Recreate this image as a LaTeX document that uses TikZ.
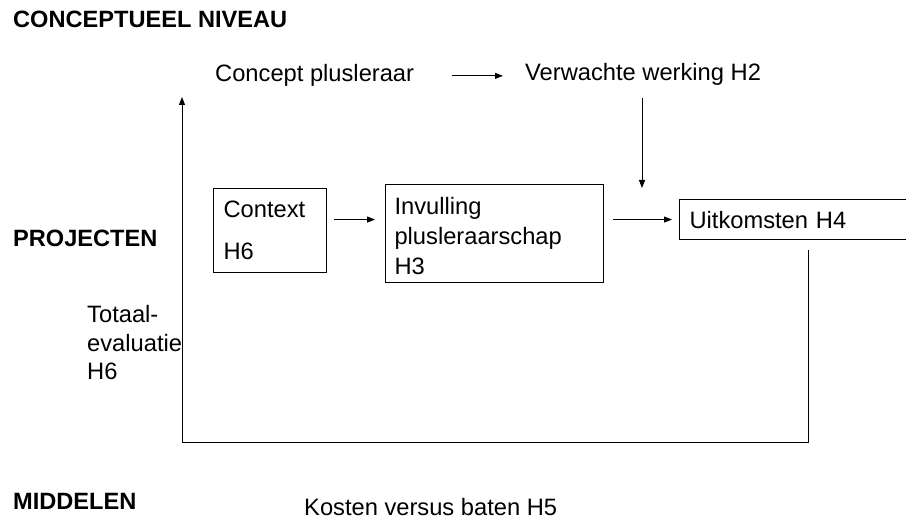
\documentclass[tikz,border=0pt]{standalone}
\usepackage{fontspec}
\setmainfont{Liberation Sans}
\usetikzlibrary{arrows.meta,positioning}
\tikzset{
  lbl/.style={inner sep=0pt,font=\fontsize{23.7pt}{30pt}\selectfont},
  head/.style={inner sep=0pt,font=\fontsize{23.6pt}{28pt}\selectfont\bfseries},
  box/.style={draw=black,line width=1.1pt,inner ysep=0pt,inner xsep=10pt,align=left,anchor=north west,font=\fontsize{23.7pt}{30pt}\selectfont},
  arr/.style={-{Triangle[length=8pt,width=6pt]},line width=1pt,black},
}
\begin{document}
\begin{tikzpicture}[x=1pt,y=-1pt]
  \useasboundingbox (0,0) rectangle (906,521);
  % levels
  \node[head,anchor=base west] (hconc) at (13,28) {CONCEPTUEEL NIVEAU};
  \node[head,anchor=base west] (hproj) at (13,247) {PROJECTEN};
  \node[head,anchor=base west] (hmidd) at (13,510) {MIDDELEN};
  % conceptual level
  \node[lbl,anchor=base west] (conc) at (215,82) {Concept plusleraar};
  \node[lbl,anchor=base west] (verw) at (525,81) {Verwachte werking H2};
  % projects
  \node[box,minimum width=113pt,minimum height=84pt,text width=93pt] (ctx) at (213,188) {Context\\[12pt]H6};
  \node[box,inner xsep=9pt,minimum width=218pt,minimum height=98pt,text width=200pt] (inv) at (385,184) {\rule{0pt}{22pt}Invulling\\plusleraarschap\\H3};
  \node[box,minimum width=234pt,minimum height=40pt,text width=214pt] (uitk) at (679,199) {Uitkomsten H4};
  \node[lbl,align=left,anchor=base west,font=\fontsize{23.7pt}{28.5pt}\selectfont] (tot) at (87,380) {Totaal-\\evaluatie\\H6};
  % means
  \node[lbl,anchor=base west] (kost) at (304,515) {Kosten versus baten H5};
  \coordinate (dn) at (642,188);
  \coordinate (loopR) at (808,443);
  \coordinate (loopL) at (182,443);
  \coordinate (fbtop) at (182,97);
  \draw[arr,shorten <=38pt,shorten >=22pt] (conc.east) -- (verw.west |- conc.east);
  \draw[arr,shorten <=12pt] (verw.south -| dn) -- (dn);
  \draw[arr,shorten <=7pt,shorten >=10pt] (ctx.east |- uitk.west) -- (inv.west |- uitk.west);
  \draw[arr,shorten <=9pt,shorten >=7pt] (inv.east |- uitk.west) -- (uitk.west);
  \draw[arr] (uitk.south -| loopR) ++(0,10) -- (loopR) -- (loopL) -- (fbtop);
\end{tikzpicture}
\end{document}
